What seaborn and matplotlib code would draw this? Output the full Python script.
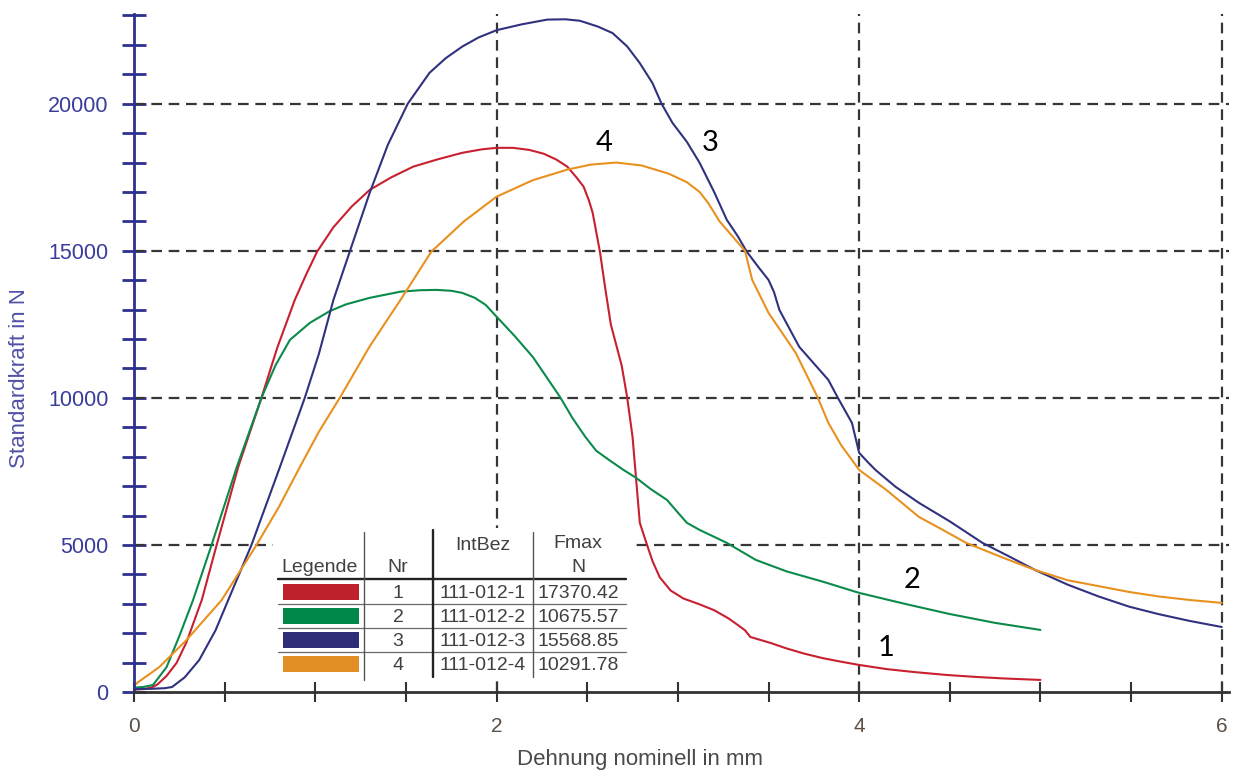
import numpy as np
import pandas as pd
import matplotlib
matplotlib.use("Agg")
import matplotlib.pyplot as plt
import seaborn as sns
from matplotlib.patches import Rectangle
from matplotlib.lines import Line2D
from matplotlib.ticker import FixedLocator, FuncFormatter

# ---- measured curves: nominal strain (mm) vs. standard force (N) ----
x1 = [0.0, 0.06, 0.10, 0.13, 0.18, 0.235, 0.29, 0.374, 0.456, 0.575, 0.703, 0.79, 0.887, 0.95,
      1.01, 1.10, 1.20, 1.30, 1.42, 1.54, 1.67, 1.81, 1.92, 2.0, 2.09, 2.18, 2.26, 2.33, 2.39,
      2.44, 2.48, 2.51, 2.53, 2.57, 2.60, 2.63, 2.66, 2.69, 2.72, 2.75, 2.77, 2.79, 2.83, 2.86,
      2.90, 2.96, 3.03, 3.12, 3.20, 3.28, 3.33, 3.37, 3.40, 3.51, 3.60, 3.70, 3.80, 3.90, 4.0,
      4.15, 4.30, 4.48, 4.65, 4.80, 5.0]
y1 = [80, 100, 160, 260, 550, 990, 1700, 3130, 5000, 7650, 10000, 11700, 13330, 14200,
      14970, 15800, 16500, 17070, 17500, 17860, 18100, 18330, 18450, 18500, 18500, 18430, 18300,
      18100, 17860, 17500, 17180, 16700, 16290, 14970, 13700, 12500, 11800, 11100, 10030, 8670,
      7210, 5750, 5000, 4450, 3900, 3450, 3180, 2980, 2780, 2500, 2280, 2100, 1870, 1670, 1480,
      1300, 1150, 1030, 920, 780, 680, 580, 510, 460, 410]

x2 = [0.0, 0.05, 0.105, 0.18, 0.25, 0.326, 0.428, 0.567, 0.703, 0.78, 0.86, 0.97, 1.08, 1.17,
      1.30, 1.47, 1.58, 1.67, 1.75, 1.81, 1.88, 1.94, 2.0, 2.1, 2.2, 2.35, 2.42, 2.49, 2.55,
      2.62, 2.70, 2.77, 2.85, 2.94, 3.0, 3.05, 3.12, 3.27, 3.43, 3.6, 3.8, 4.0, 4.25, 4.5,
      4.75, 5.0]
y2 = [150, 170, 240, 850, 1900, 3130, 5000, 7650, 10000, 11100, 11970, 12550, 12950, 13180,
      13400, 13610, 13660, 13670, 13640, 13570, 13400, 13160, 12760, 12100, 11390, 10030, 9300,
      8670, 8200, 7890, 7550, 7280, 6900, 6530, 6100, 5750, 5510, 5070, 4490, 4100, 3750, 3370,
      3000, 2650, 2350, 2110]

x3 = [0.0, 0.10, 0.17, 0.21, 0.28, 0.36, 0.45, 0.52, 0.648, 0.805, 0.942, 1.02, 1.10, 1.19,
      1.30, 1.40, 1.51, 1.63, 1.72, 1.81, 1.90, 2.0, 2.14, 2.28, 2.38, 2.46, 2.56, 2.64, 2.72,
      2.79, 2.86, 2.91, 2.97, 3.05, 3.12, 3.20, 3.27, 3.33, 3.38, 3.45, 3.50, 3.53, 3.56, 3.62,
      3.67, 3.76, 3.83, 3.88, 3.96, 4.0, 4.05, 4.09, 4.20, 4.33, 4.50, 4.68, 4.83, 4.97, 5.15,
      5.32, 5.49, 5.65, 5.82, 6.0]
y3 = [100, 110, 130, 170, 500, 1090, 2100, 3130, 5000, 7650, 10000, 11500, 13330, 14970,
      16970, 18600, 20000, 21050, 21550, 21940, 22250, 22500, 22700, 22860, 22870, 22820, 22620,
      22400, 21950, 21380, 20700, 20000, 19350, 18700, 17990, 17000, 16050, 15500, 14970, 14400,
      14010, 13600, 12990, 12300, 11730, 11100, 10610, 10030, 9150, 8130, 7800, 7550, 6980, 6430,
      5800, 5070, 4600, 4150, 3650, 3250, 2900, 2650, 2420, 2210]

x4 = [0.0, 0.015, 0.14, 0.29, 0.484, 0.676, 0.80, 0.915, 1.02, 1.135, 1.30, 1.47, 1.64, 1.82,
      2.0, 2.2, 2.39, 2.52, 2.66, 2.80, 2.95, 3.05, 3.12, 3.17, 3.23, 3.30, 3.37, 3.41, 3.50,
      3.65, 3.77, 3.83, 3.90, 4.0, 4.15, 4.33, 4.45, 4.59, 4.80, 4.97, 5.15, 5.32, 5.49, 5.65,
      5.82, 6.0]
y4 = [200, 300, 850, 1770, 3130, 5000, 6300, 7650, 8850, 10000, 11750, 13330, 14970, 16000,
      16840, 17400, 17760, 17930, 18000, 17900, 17620, 17330, 17000, 16600, 16000, 15500, 15000,
      14010, 12890, 11530, 10030, 9150, 8400, 7550, 6870, 5950, 5550, 5070, 4550, 4150, 3800,
      3600, 3400, 3250, 3130, 3030]

# ---- legend table contents ----
legend_nr = ["1", "2", "3", "4"]
legend_intbez = ["111-012-1", "111-012-2", "111-012-3", "111-012-4"]
legend_fmax = ["17370.42", "10675.57", "15568.85", "10291.78"]

# curve tags drawn next to the curves: (label, strain, force)
curve_tags = [("4", 2.595, 18670), ("3", 3.18, 18670), ("2", 4.29, 3810), ("1", 4.15, 1500)]

# axis ticks
x_ticks = [i * 0.5 for i in range(13)]
x_labelled = [0, 2, 4, 6]
y_ticks = list(range(0, 23001, 1000))
y_labelled = [0, 5000, 10000, 15000, 20000]
x_grid = [2, 4, 6]
y_grid = [5000, 10000, 15000, 20000]

line_colors = {"1": "#c8202f", "2": "#0b8b4b", "3": "#30317f", "4": "#e8911f"}
swatch_colors = ["#c0202c", "#00884a", "#2e2e78", "#e29026"]

frames = []
for nr, xs, ys in zip(legend_nr, [x1, x2, x3, x4], [y1, y2, y3, y4]):
    frames.append(pd.DataFrame({"dehnung": xs, "kraft": ys, "nr": nr}))
df = pd.concat(frames, ignore_index=True)

sns.set_style("white")
plt.rcParams["font.family"] = ["Liberation Sans", "DejaVu Sans"]

W, H = 1239, 773
fig = plt.figure(figsize=(W / 100, H / 100), dpi=100)
ax = fig.add_axes([134 / W, 1 - 692 / H, (1229 - 134) / W, (692 - 14) / H])
ax.set_xlim(0, 6.04)
ax.set_ylim(0, 23050)

# dashed grid only at the labelled positions
for gx in x_grid:
    ax.axvline(gx, color="#363636", lw=1.6, dashes=(4.8, 3.0), zorder=1)
for gy in y_grid:
    ax.axhline(gy, color="#363636", lw=1.6, dashes=(4.8, 3.0), zorder=1)

sns.lineplot(data=df, x="dehnung", y="kraft", hue="nr", palette=line_colors,
             estimator=None, sort=False, linewidth=1.5, legend=False, ax=ax, zorder=3)

for s in ("top", "right"):
    ax.spines[s].set_visible(False)
ax.spines["left"].set_color("#2e3090")
ax.spines["left"].set_linewidth(2.0)
ax.spines["bottom"].set_color("#333333")
ax.spines["bottom"].set_linewidth(2.0)
ax.spines["left"].set_zorder(4)
ax.spines["bottom"].set_zorder(4)

ax.xaxis.set_major_locator(FixedLocator(x_ticks))
ax.yaxis.set_major_locator(FixedLocator(y_ticks))
ax.xaxis.set_major_formatter(FuncFormatter(
    lambda v, p: f"{int(round(v))}" if any(abs(v - t) < 1e-6 for t in x_labelled) else ""))
ax.yaxis.set_major_formatter(FuncFormatter(
    lambda v, p: f"{int(round(v))}" if any(abs(v - t) < 1e-6 for t in y_labelled) else ""))
ax.tick_params(axis="x", bottom=True, direction="inout", length=14.5, width=1.5,
               color="#333333", labelsize=15, labelcolor="#5c5046", pad=11)
ax.tick_params(axis="y", left=True, direction="inout", length=17, width=2.0,
               color="#2e3090", labelsize=15.5, labelcolor="#3a3c9c", pad=10)

ax.set_xlabel("Dehnung nominell in mm", fontsize=16, color="#4a4a4a")
ax.set_ylabel("Standardkraft in N", fontsize=16, color="#5050a8")
ax.xaxis.label.set_va("center")
ax.yaxis.label.set_va("center")
ax.xaxis.set_label_coords((640 - 134) / 1095, (692 - 760) / 678)
ax.yaxis.set_label_coords((20 - 134) / 1095, (692 - 378) / 678)

for tag, tx, ty in curve_tags:
    ax.text(tx, ty, tag, fontsize=21, family=["Lato", "DejaVu Sans"], color="black",
            ha="center", va="center", zorder=5)

# ---- legend table, placed in figure pixel coordinates ----
def fpx(x, y):
    return (x / W, 1 - y / H)

tf = fig.transFigure
bx0, by0 = fpx(273, 680)
bx1, by1 = fpx(630, 528)
fig.add_artist(Rectangle((bx0, by0), bx1 - bx0, by1 - by0, transform=tf,
                         facecolor="white", edgecolor="none", zorder=10))

def hline(y, x0, x1, lw, color):
    a, b = fpx(x0, y)
    c, d = fpx(x1, y)
    fig.add_artist(Line2D([a, c], [b, d], transform=tf, lw=lw, color=color, zorder=11))

def vline(x, y0, y1, lw, color):
    a, b = fpx(x, y0)
    c, d = fpx(x, y1)
    fig.add_artist(Line2D([a, c], [b, d], transform=tf, lw=lw, color=color, zorder=11))

hline(579, 278, 626, 1.7, "#222222")
for ry in (604, 628, 652):
    hline(ry, 278, 626, 0.9, "#6a6a6a")
vline(364, 532, 680, 1.0, "#555555")
vline(433, 530, 677, 1.7, "#222222")
vline(533, 532, 677, 1.0, "#555555")

txt_kw = dict(transform=tf, fontsize=14, color="#404040", ha="center", va="center", zorder=12)
fig.text(*fpx(320, 567), "Legende", **txt_kw)
fig.text(*fpx(398, 568), "Nr", **txt_kw)
fig.text(*fpx(483, 545), "IntBez", **txt_kw)
fig.text(*fpx(578, 544), "Fmax", **txt_kw)
fig.text(*fpx(578, 568), "N", **txt_kw)

row_y = [592, 616, 640, 664]
for ry, col, nr, ib, fm in zip(row_y, swatch_colors, legend_nr, legend_intbez, legend_fmax):
    sx, sy = fpx(283, ry + 8)
    sx2, sy2 = fpx(359, ry - 8)
    fig.add_artist(Rectangle((sx, sy), sx2 - sx, sy2 - sy, transform=tf,
                             facecolor=col, edgecolor="none", zorder=12))
    fig.text(*fpx(398, ry + 1), nr, **txt_kw)
    fig.text(*fpx(483, ry + 1), ib, **txt_kw)
    fig.text(*fpx(578, ry + 1), fm, **txt_kw)

fig.savefig("out.png", dpi=100)
